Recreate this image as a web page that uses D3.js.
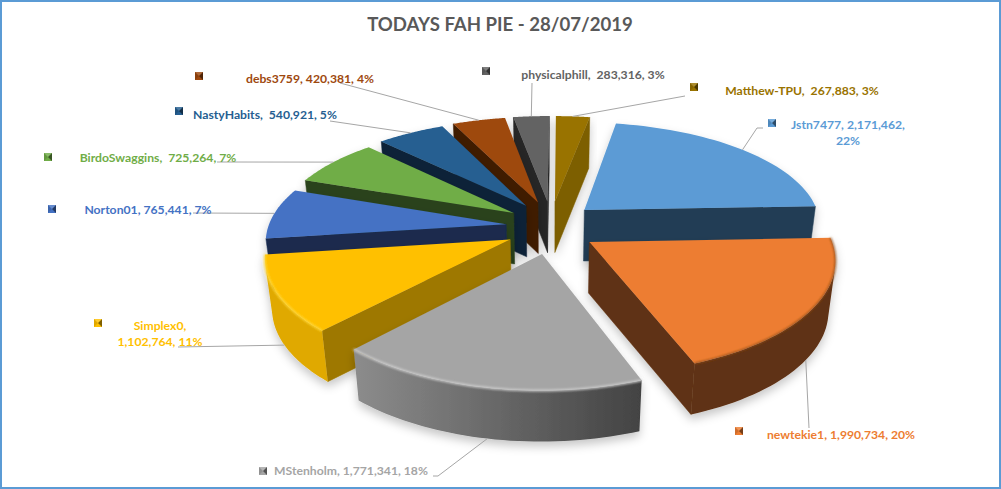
<!DOCTYPE html>
<html><head><meta charset="utf-8">
<script src="https://cdnjs.cloudflare.com/ajax/libs/d3/7.8.5/d3.min.js"></script>
<style>html,body{margin:0;padding:0;background:#fff}svg{display:block}</style>
</head><body><svg id="c" width="1001" height="489"></svg>
<script>
const title = "TODAYS FAH PIE - 28/07/2019";
const names = ["Jstn7477","newtekie1","MStenholm","Simplex0","Norton01","BirdoSwaggins","NastyHabits","debs3759","physicalphill","Matthew-TPU"];
const values = [2171462,1990734,1771341,1102764,765441,725264,540921,420381,283316,267883];
const percents = [22,20,18,11,7,7,5,4,3,3];
const topColors = ["#5b9bd5","#ed7d31","#a5a5a5","#ffc000","#4472c4","#70ad47","#255e91","#9e480e","#636363","#997300"];
const faceColors = ["#243e55","#5f3113","#6e6e6e","#9e7800","#1a2b4e","#2c431c","#0d2439","#3f1d06","#282828","#7d5e00"];
const rimColors = ["#243e55","#5f3113","url(#rimGray)","#e0a900","#1a2b4e","#2c431c","#0d2439","#3f1d06","#282828","#7d5e00"];
const labelLines = [
  ["Jstn7477, 2,171,462,","22%"],["newtekie1, 1,990,734, 20%"],["MStenholm, 1,771,341, 18%"],
  ["Simplex0,","1,102,764, 11%"],["Norton01, 765,441, 7%"],["BirdoSwaggins,  725,264, 7%"],
  ["NastyHabits,  540,921, 5%"],["debs3759, 420,381, 4%"],["physicalphill,  283,316, 3%"],["Matthew-TPU,  267,883, 3%"]];
// layout: label centre [x, y of first line], legend-key left/top, leader elbow
const labelPos = [[848,125],[841,435],[351,471],[160,326],[148,210],[158,158],[265,115],[310,79],[593,75],[802,91]];
const keyPos = [[768,119],[735,427],[259,467],[94,319],[48,205],[44,153],[175,107],[195,72],[482,67],[690,83]];
const leaderStart = [[763,128],[809,428],[433,476],[178,347],[193,213],[217,162],[330,121],[340,83],[532,83],[685,96]];
const leaderElbow = [[757,128],null,[438,476],null,null,null,null,null,null,null];
const leaderRim = [0,1,1,1,0,0,0,0,0,0];

const svg = d3.select("#c");
const defs = svg.append("defs");
const f = defs.append("filter").attr("id","sh").attr("x","-20%").attr("y","-20%").attr("width","140%").attr("height","140%");
f.append("feDropShadow").attr("dx",0).attr("dy",5).attr("stdDeviation",5).attr("flood-color","#000").attr("flood-opacity",.22);
defs.append("filter").attr("id","soft").append("feGaussianBlur").attr("stdDeviation",.9);
const g0 = defs.append("linearGradient").attr("id","rimGray").attr("gradientUnits","userSpaceOnUse")
  .attr("x1",354).attr("x2",641).attr("y1",0).attr("y2",0);
g0.append("stop").attr("offset",0).attr("stop-color","#8c8c8c");
g0.append("stop").attr("offset",1).attr("stop-color","#434343");

// chart frame
svg.append("rect").attr("x",1).attr("y",1).attr("width",999).attr("height",487)
  .attr("fill","#fff").attr("stroke","#5b9bd5").attr("stroke-width",2);

svg.append("text").attr("x",500).attr("y",31).attr("text-anchor","middle")
  .attr("font-family","Lato").attr("font-weight",700).attr("font-size",18.6).attr("fill","#595959").text(title);

// pie angles come from d3.pie, then go through a perspective projection of the tilted disc
const rot = 10*Math.PI/180;
const arcs = d3.pie().sort(null).startAngle(rot).endAngle(rot+2*Math.PI)(values);
const cx=551, cy=227, Rx=238, Ry=106, px=.14, py=.155, eX=.19, eY=.25, drop=51, shrink=.975;
function proj(d,r,a,level){
  const m=(d.startAngle+d.endAngle)/2;
  const X=eX*Math.sin(m)+r*Math.sin(a), Y=eY*Math.cos(m)+r*Math.cos(a);
  let sx=Rx*X/(1+px*Y), sy=-Ry*Y/(1+py*Y);
  if(level) { sx*=shrink; sy+=drop; }
  return [cx+sx, cy+sy];
}
const area = q => d3.polygonArea(q);
const line = d3.line();
const order = [9,8,7,6,5,4,3,0,1,2];
const pieG = svg.append("g");
order.forEach(i=>{
  const d=arcs[i], g=pieG.append("g").attr("filter","url(#sh)");
  const steps=d3.range(0,41).map(k=>d.startAngle+(d.endAngle-d.startAngle)*k/40);
  const apexT=proj(d,0,0,0), apexB=proj(d,0,0,1);
  // radial faces, drawn only where they face the viewer
  [[d.startAngle,1],[d.endAngle,-1]].forEach(([a,s])=>{
    const o=proj(d,1,a,0), b=proj(d,1,a,1), q=[apexT,o,b,apexB];
    if(area(q)*s>0) g.append("path").attr("d",line(q)+"Z").attr("fill",faceColors[i]).attr("stroke",faceColors[i]).attr("stroke-width",.5);
  });
  // outer rim: one band through the angle steps that face the viewer
  const vis=steps.filter((a,k)=>{
    if(k===0) return false;
    const a0=steps[k-1];
    return area([proj(d,1,a0,0),proj(d,1,a,0),proj(d,1,a,1),proj(d,1,a0,1)])>0;
  });
  if(vis.length){
    const first=steps[steps.indexOf(vis[0])-1], band=[first].concat(vis);
    const poly=band.map(a=>proj(d,1,a,0)).concat(band.slice().reverse().map(a=>proj(d,1,a,1)));
    g.append("path").attr("d",line(poly)+"Z").attr("fill",rimColors[i]);
  }
  // top
  const top=[apexT].concat(steps.map(a=>proj(d,1,a,0)));
  g.append("path").attr("d",line(top)+"Z").attr("fill",topColors[i]);
  // bevel highlight on the rim edge of the large front slices
  if(i===2||i===3) g.append("path").attr("d",line(steps.map(a=>proj(d,1,a,0)))).attr("fill","none")
    .attr("stroke",i===2?"#cfcfcf":"#ffd83a").attr("stroke-width",2).attr("filter","url(#soft)");
  if(i===1) g.append("path").attr("d",line(steps.map(a=>proj(d,1,a,0)))).attr("fill","none")
    .attr("stroke","#8a4a1e").attr("stroke-width",1.5).attr("filter","url(#soft)");
});

// leader lines
arcs.forEach((d,i)=>{
  const m=(d.startAngle+d.endAngle)/2, end=proj(d,1,m,leaderRim[i]);
  const pts=[leaderStart[i]]; if(leaderElbow[i]) pts.push(leaderElbow[i]); pts.push(end);
  svg.append("path").attr("d",line(pts)).attr("fill","none").attr("stroke","#a6a6a6").attr("stroke-width",1);
});

// labels
labelLines.forEach((ls,i)=>{
  const t=svg.append("text").attr("text-anchor","middle").attr("font-family","Lato").attr("font-weight",700)
    .attr("font-size",12.2).attr("fill",topColors[i]);
  ls.forEach((s,k)=>t.append("tspan").attr("x",labelPos[i][0]).attr("y",labelPos[i][1]+4+k*16).attr("xml:space","preserve").text(s));
});

// bevelled legend keys
keyPos.forEach(([x,y],i)=>{
  const g=svg.append("g").attr("transform",`translate(${x},${y})`);
  g.append("rect").attr("width",8).attr("height",8).attr("fill",topColors[i]);
  g.append("path").attr("d","M0,0L4,4L0,8Z").attr("fill","#000").attr("opacity",.12);
  g.append("path").attr("d","M8,0L4,4L8,8Z").attr("fill","#000").attr("opacity",.5);
  g.append("path").attr("d","M0,0L8,0L4,4Z").attr("fill","#fff").attr("opacity",.18);
});
</script></body></html>
